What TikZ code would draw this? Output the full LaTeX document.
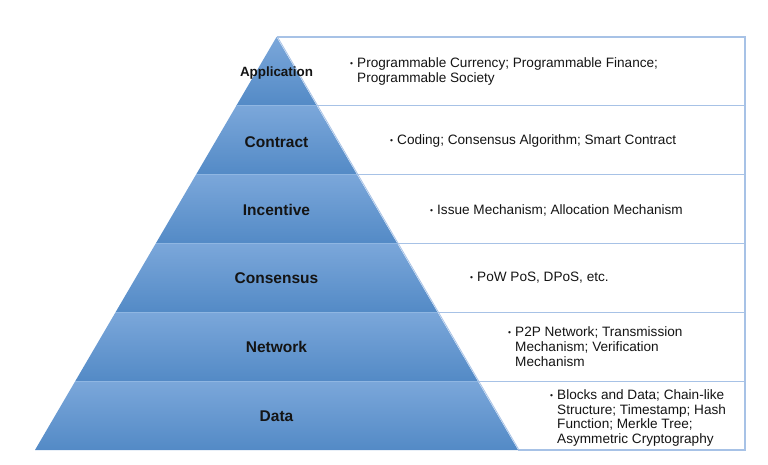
\documentclass[tikz,border=0pt]{standalone}
\usepackage{fontspec}
\setmainfont{Liberation Sans}
\usepackage{graphicx}
\definecolor{bandtop}{HTML}{7BA7DA}
\definecolor{bandmid}{HTML}{6A9FDB}
\definecolor{bandbot}{HTML}{538AC6}
\definecolor{boxline}{HTML}{A7C2E6}
\definecolor{bandedge}{HTML}{8FB6E2}
\definecolor{txt}{HTML}{141414}
\newcommand{\bul}{\makebox[7pt][l]{\raisebox{1.0pt}{\scalebox{0.62}{\textbullet}}}}
\newcommand{\ind}{\hspace*{7pt}}
\begin{document}
\begin{tikzpicture}[x=1pt,y=-1pt,
  layerlabel/.style={font=\bfseries\fontsize{15.5}{18}\selectfont, text=txt, inner sep=0pt},
  desc/.style={font=\fontsize{13.6}{14.8}\selectfont, text=txt, align=left, anchor=west, inner sep=0pt},
  band/.style={top color=bandtop, middle color=bandmid, bottom color=bandbot},
  boxedge/.style={draw=boxline, line width=1.2pt},
]
\useasboundingbox (0,0) rectangle (768,465);
\foreach \i in {0,...,6} {
  \pgfmathsetmacro\yy{37+\i*68.8333}
  \pgfmathsetmacro\xl{276.5-40.25*\i}
  \pgfmathsetmacro\xr{276.5+40.25*\i}
  \coordinate (L\i) at (\xl,\yy);
  \coordinate (R\i) at (\xr,\yy);
  \coordinate (E\i) at (745,\yy);
}
% right-hand boxes
\draw[draw=boxline, line width=0.8pt] ([xshift=1pt]R0) -- ([xshift=1pt]R6);
\draw[boxedge] (R0) -- (E0) -- (E6) -- (R6);
\foreach \i in {1,...,5} { \draw[boxedge] (R\i) -- (E\i); }
% pyramid bands
\foreach \i/\j in {0/1,1/2,2/3,3/4,4/5,5/6} {
  \shade[band] (L\i) -- (R\i) -- (R\j) -- (L\j) -- cycle;
}
\foreach \i in {1,...,5} { \draw[bandedge, line width=1pt] (L\i) -- (R\i); }
% layer labels
\node[layerlabel, font=\bfseries\fontsize{13.4}{16}\selectfont] (app) at (276.5,73) {Application};
\node[layerlabel] (con) at (276.5,142) {Contract};
\node[layerlabel] (inc) at (276.5,210) {Incentive};
\node[layerlabel] (cns) at (276.5,278) {Consensus};
\node[layerlabel] (net) at (276.5,347) {Network};
\node[layerlabel] (dat) at (276.5,416) {Data};
% descriptions
\node[desc] (dapp) at (350,71.5) {\bul Programmable Currency; Programmable Finance;\\\ind Programmable Society};
\node[desc] (dcon) at (390,141) {\bul Coding; Consensus Algorithm; Smart Contract};
\node[desc] (dinc) at (430,210) {\bul Issue Mechanism; Allocation Mechanism};
\node[desc] (dcns) at (470,278) {\bul PoW PoS, DPoS, etc.};
\node[desc] (dnet) at (508,346.5) {\bul P2P Network; Transmission\\\ind Mechanism; Verification\\\ind Mechanism};
\node[desc] (ddat) at (550,418) {\bul Blocks and Data; Chain-like\\\ind Structure; Timestamp; Hash\\\ind Function; Merkle Tree;\\\ind Asymmetric Cryptography};
\end{tikzpicture}
\end{document}
